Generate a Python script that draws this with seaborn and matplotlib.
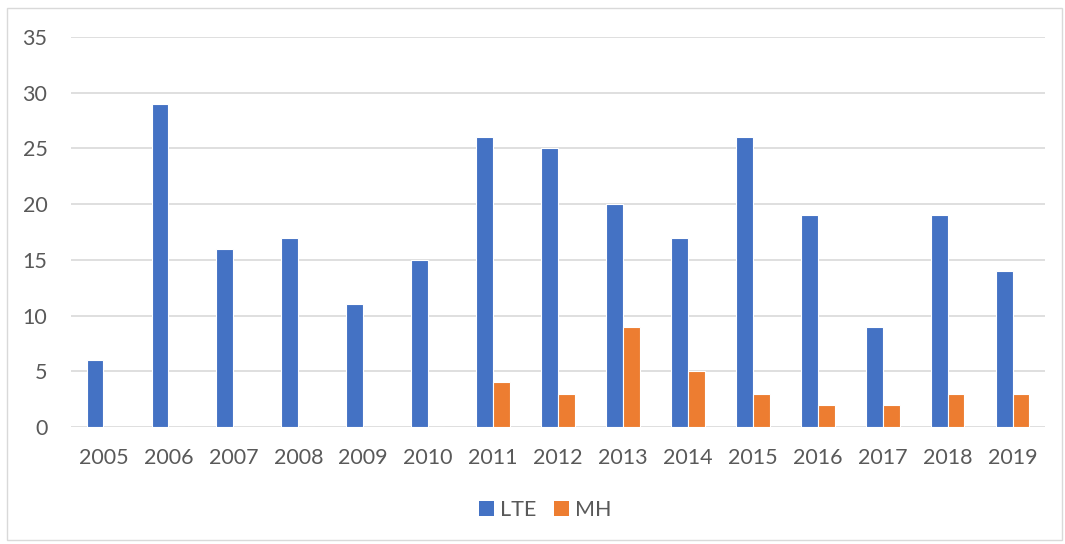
import matplotlib
matplotlib.use("Agg")
import matplotlib.pyplot as plt
import seaborn as sns
import pandas as pd
from matplotlib.patches import Patch

years = ["2005", "2006", "2007", "2008", "2009", "2010", "2011", "2012",
         "2013", "2014", "2015", "2016", "2017", "2018", "2019"]
lte = [6, 29, 16, 17, 11, 15, 26, 25, 20, 17, 26, 19, 9, 19, 14]
mh = [0, 0, 0, 0, 0, 0, 4, 3, 9, 5, 3, 2, 2, 3, 3]
series_names = ["LTE", "MH"]
colors = ["#4472C4", "#ED7D31"]

df = pd.DataFrame({
    "year": years * 2,
    "value": lte + mh,
    "series": [series_names[0]] * len(years) + [series_names[1]] * len(years),
})

sns.set_theme(style="white")
plt.rcParams["font.family"] = ["Lato", "DejaVu Sans"]

fig = plt.figure(figsize=(10.65, 5.44), dpi=100)
ax = fig.add_axes([71 / 1065, 1 - 427 / 544, (1045 - 71) / 1065, (427 - 37) / 544])

sns.barplot(data=df, x="year", y="value", hue="series", order=years,
            hue_order=series_names, palette=colors, width=0.52, saturation=1,
            edgecolor="white", linewidth=0.8, ax=ax, legend=False)

ax.set_ylim(0, 35)
ax.set_yticks(range(0, 36, 5))
ax.set_xlim(-0.5, len(years) - 0.5)
ax.yaxis.grid(True, color="#D9D9D9", linewidth=1.2)
ax.set_axisbelow(True)
for s in ax.spines.values():
    s.set_visible(False)
ax.set_xlabel("")
ax.set_ylabel("")
ax.tick_params(axis="both", length=0, labelsize=15.5, labelcolor="#595959")
ax.tick_params(axis="x", pad=15)
ax.tick_params(axis="y", pad=17)

handles = [Patch(facecolor=c, edgecolor="none") for c in colors]
fig.legend(handles, series_names, loc="center", bbox_to_anchor=(0.512, 0.062),
           ncol=2, frameon=False, fontsize=15.5, handlelength=0.7,
           handleheight=0.7, handletextpad=0.3, columnspacing=0.8,
           labelcolor="#595959")

border = plt.Rectangle((7 / 1065, 4 / 544), 1055 / 1065, 532 / 544,
                       transform=fig.transFigure, fill=False,
                       edgecolor="#D9D9D9", linewidth=1)
fig.patches.append(border)

fig.savefig("out.png", dpi=100)
